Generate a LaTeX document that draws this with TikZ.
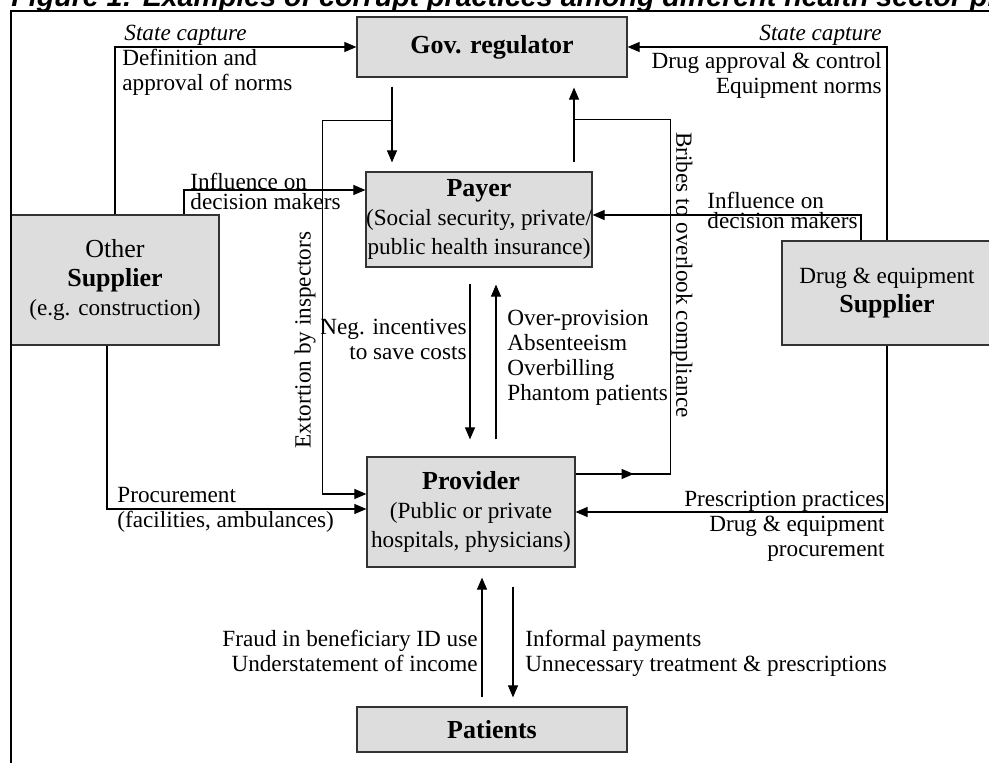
\documentclass[tikz,border=0pt]{standalone}
\usepackage{fontspec}
\setmainfont{Liberation Serif}
\newfontfamily\titlefont{Liberation Sans}
\usetikzlibrary{arrows.meta,calc,positioning}

\definecolor{boxgray}{RGB}{221,221,221}
\tikzset{
box/.style={draw=black!80,fill=boxgray,line width=0.6pt,inner sep=0pt,align=center,font=\fontsize{11.6}{14.5}\selectfont},
lbl/.style={inner sep=0pt,font=\fontsize{11.6}{12.5}\selectfont},
arr/.style={line width=0.55pt,-{Triangle[length=6pt,width=5pt]}},
lin/.style={line width=0.55pt}
}

\begin{document}
\begin{tikzpicture}[x=0.5pt,y=-0.5pt]
\useasboundingbox (0,0) rectangle (989,763);
\clip (0,0) rectangle (989,763);

\node (title) at (11,6.5) [anchor=base west,inner sep=0pt,font=\titlefont\bfseries\itshape\fontsize{14.3}{16}\selectfont] {Figure 1: Examples of corrupt practices among different health sector players};

% boxes
\node (gov) at (492,47) [box,minimum width=135pt,minimum height=30pt] {{\fontsize{13}{14.5}\selectfont\bfseries Gov. regulator}};
\node (payer) at (479,219.5) [box,minimum width=113pt,minimum height=47.5pt] {{\fontsize{13}{14.5}\selectfont\bfseries Payer}\\(Social security, private/\\public health insurance)};
\node (other) at (115,280) [box,minimum width=104pt,minimum height=65pt] {{\fontsize{13}{14.5}\selectfont Other}\\{\fontsize{13}{14.5}\selectfont\bfseries Supplier}\\(e.g. construction)};
\node (drug) at (887,293) [box,minimum width=105pt,minimum height=52pt] {Drug \& equipment\\{\fontsize{13}{14.5}\selectfont\bfseries Supplier}};
\node (prov) at (471,512) [box,minimum width=104pt,minimum height=55pt] {{\fontsize{13}{14.5}\selectfont\bfseries Provider}\\(Public or private\\hospitals, physicians)};
\node (pat) at (492,729.5) [box,minimum width=135pt,minimum height=22.5pt] {{\fontsize{13}{14.5}\selectfont\bfseries Patients}};

% labels
\node (scL) at (124,25) [lbl,anchor=north west] {\textit{State capture}};
\node (defL) at (122,49) [lbl,anchor=north west,align=left] {Definition and\\approval of norms};
\node (inflL) at (190,173) [lbl,anchor=north west,align=left,font=\fontsize{11.6}{9.8}\selectfont] {Influence on\\decision makers};
\node (negL) at (467,319) [lbl,anchor=north east,align=right] {Neg. incentives\\to save costs};
\node (overL) at (507,310) [lbl,anchor=north west,align=left] {Over-provision\\Absenteeism\\Overbilling\\Phantom patients};
\node (scR) at (882,25) [lbl,anchor=north east] {\textit{State capture}};
\node (drgL) at (882,52) [lbl,anchor=north east,align=right] {Drug approval \& control\\Equipment norms};
\node (inflR) at (707,192) [lbl,anchor=north west,align=left,font=\fontsize{11.6}{10}\selectfont] {Influence on\\decision makers};
\node (procL) at (117,487) [lbl,anchor=north west,align=left] {Procurement\\(facilities, ambulances)};
\node (prescL) at (885,491) [lbl,anchor=north east,align=right] {Prescription practices\\Drug \& equipment\\procurement};
\node (fraudL) at (478,630) [lbl,anchor=north east,align=right] {Fraud in beneficiary ID use\\Understatement of income};
\node (infL) at (525,630) [lbl,anchor=north west,align=left] {Informal payments\\Unnecessary treatment \& prescriptions};
\node (extL) at (305,340) [lbl,rotate=90] {Extortion by inspectors};
\node (bribL) at (682,275) [lbl,rotate=-90] {Bribes to overlook compliance};

% connectors
\draw[arr] (other.north) |- (gov.west);
\draw[arr] ($(other.north)+(69,0)$) |- ($(payer.west)+(0,-29.5)$);
\draw[arr] ($(gov.south)+(-100,9)$) -- ($(payer.north)+(-87,-9)$);
\draw[arr] ($(gov.south)+(-100,43)$) -| ($(prov.west)+(-44,-18)$) -- ($(prov.west)+(0,-18)$);
\draw[arr] ($(payer.north)+(95,-9)$) -- ($(gov.south)+(82,10)$);
\draw[lin] ($(prov.east)+(0,-38)$) coordinate (b0) -- ++(95,0) |- ($(payer.north)+(95,-52)$);
\draw[arr] (b0) -- ++(58,0);
\draw[arr] (drug.north) |- (gov.east);
\draw[arr] ($(drug.north)+(-26,0)$) |- ($(payer.east)+(0,-4.5)$);
\draw[arr] ($(payer.south)+(-9,16)$) -- ($(prov.north)+(-1,-17)$);
\draw[arr] ($(prov.north)+(25,-17)$) -- ($(payer.south)+(17,17)$);
\draw[arr] ($(other.south)+(-8,0)$) |- ($(prov.west)+(0,-3)$);
\draw[arr] (drug.south) |- (prov.east);
\draw[arr] ($(pat.north)+(-10,-9)$) -- ($(prov.south)+(11,10)$);
\draw[arr] ($(prov.south)+(42,19)$) -- ($(pat.north)+(21,-9)$);

% frame
\draw[line width=1pt] (11,780) -- (11,11) -- (1000,11);
\end{tikzpicture}
\end{document}
